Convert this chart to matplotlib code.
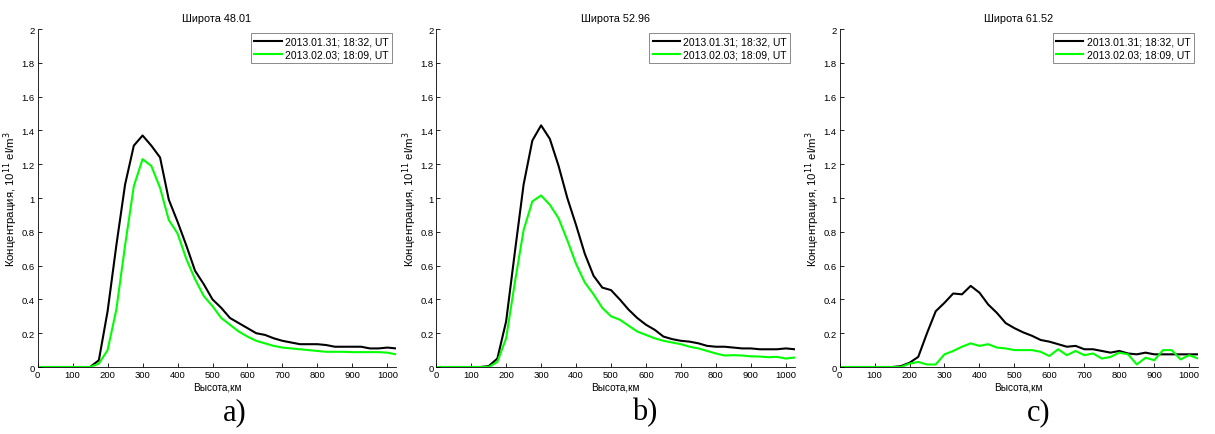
import matplotlib
matplotlib.use("Agg")
import matplotlib.pyplot as plt
import numpy as np

plt.rcParams["font.family"] = ["Liberation Sans", "DejaVu Sans"]

heights = np.arange(0, 1026, 25)

titles = ["Широта 48.01", "Широта 52.96", "Широта 61.52"]
panel_labels = ["a)", "b)", "c)"]
series_labels = ["2013.01.31; 18:32, UT", "2013.02.03; 18:09, UT"]

black_a = [0, 0, 0, 0, 0, 0, 0, 0.04, 0.33, 0.72, 1.08, 1.31, 1.37, 1.31, 1.24, 0.99, 0.86, 0.72,
           0.57, 0.49, 0.40, 0.35, 0.29, 0.26, 0.23, 0.20, 0.19, 0.17, 0.155, 0.145, 0.135, 0.135,
           0.135, 0.13, 0.12, 0.12, 0.12, 0.12, 0.11, 0.11, 0.115, 0.11]
green_a = [0, 0, 0, 0, 0, 0, 0, 0.02, 0.10, 0.34, 0.72, 1.07, 1.23, 1.19, 1.06, 0.87, 0.79, 0.64,
           0.52, 0.42, 0.36, 0.29, 0.25, 0.21, 0.18, 0.155, 0.14, 0.125, 0.115, 0.11, 0.105, 0.10,
           0.095, 0.09, 0.09, 0.09, 0.088, 0.088, 0.088, 0.088, 0.085, 0.075]

black_b = [0, 0, 0, 0, 0, 0, 0.005, 0.05, 0.27, 0.68, 1.08, 1.34, 1.43, 1.35, 1.19, 1.00, 0.84, 0.67,
           0.54, 0.47, 0.455, 0.40, 0.34, 0.29, 0.25, 0.22, 0.18, 0.165, 0.155, 0.15, 0.14, 0.125,
           0.12, 0.12, 0.115, 0.11, 0.11, 0.105, 0.105, 0.105, 0.11, 0.105]
green_b = [0, 0, 0, 0, 0, 0, 0, 0.03, 0.17, 0.50, 0.81, 0.98, 1.015, 0.96, 0.88, 0.75, 0.61, 0.50,
           0.43, 0.35, 0.30, 0.28, 0.245, 0.21, 0.19, 0.17, 0.155, 0.145, 0.135, 0.12, 0.11, 0.095,
           0.08, 0.068, 0.07, 0.068, 0.063, 0.062, 0.058, 0.06, 0.05, 0.056]

black_c = [0, 0, 0, 0, 0, 0, 0, 0.005, 0.025, 0.06, 0.20, 0.33, 0.38, 0.435, 0.43, 0.48, 0.44, 0.37,
           0.32, 0.26, 0.23, 0.205, 0.185, 0.16, 0.15, 0.135, 0.12, 0.125, 0.105, 0.105, 0.095, 0.085,
           0.095, 0.08, 0.075, 0.085, 0.075, 0.075, 0.075, 0.075, 0.075, 0.075]
green_c = [0, 0, 0, 0, 0, 0, 0, 0, 0.02, 0.03, 0.015, 0.015, 0.075, 0.095, 0.12, 0.14, 0.125, 0.135,
           0.115, 0.11, 0.10, 0.10, 0.10, 0.09, 0.065, 0.105, 0.07, 0.095, 0.07, 0.08, 0.05, 0.06,
           0.085, 0.075, 0.015, 0.055, 0.04, 0.10, 0.10, 0.045, 0.07, 0.05]

panels = [(black_a, green_a), (black_b, green_b), (black_c, green_c)]

fig = plt.figure(figsize=(12.15, 4.35), dpi=100)
lefts = [0.031, 0.359, 0.691]
width = 0.295
bottom, top = 0.154, 0.931
label_x = [0.193, 0.531, 0.855]

for left, title, plabel, lx, (black, green) in zip(lefts, titles, panel_labels, label_x, panels):
    ax = fig.add_axes([left, bottom, width, top - bottom])
    ax.plot(heights, black, color="black", linewidth=1.5, label=series_labels[0])
    ax.plot(heights, green, color="#00ff00", linewidth=1.5, label=series_labels[1])
    ax.set_xlim(0, 1025)
    ax.set_ylim(0, 2)
    ax.set_xticks(np.arange(0, 1001, 100))
    ax.set_yticks(np.arange(0, 2.01, 0.2))
    ax.set_yticklabels(["0", "0.2", "0.4", "0.6", "0.8", "1", "1.2", "1.4", "1.6", "1.8", "2"])
    ax.tick_params(direction="in", length=3, labelsize=6.8, width=0.6, pad=2)
    ax.spines["top"].set_visible(False)
    ax.spines["right"].set_visible(False)
    ax.spines["left"].set_linewidth(0.6)
    ax.spines["bottom"].set_linewidth(0.6)
    ax.set_title(title, fontsize=7.8, pad=6)
    ax.set_xlabel("Высота,км", fontsize=7.2, labelpad=2)
    ax.set_ylabel("Концентрация, 10$^{11}$ el/m$^3$", fontsize=8.2, labelpad=1)
    leg = ax.legend(loc="upper right", fontsize=7.5, frameon=True, fancybox=False,
                    borderpad=0.35, handlelength=2.6, handletextpad=0.3, labelspacing=0.25,
                    borderaxespad=0.4)
    leg.get_frame().set_edgecolor("#555555")
    leg.get_frame().set_linewidth(0.6)
    fig.text(lx, 0.052, plabel, fontsize=22, family=["Liberation Serif"], ha="center", va="center")

fig.savefig("out.png", dpi=100)
